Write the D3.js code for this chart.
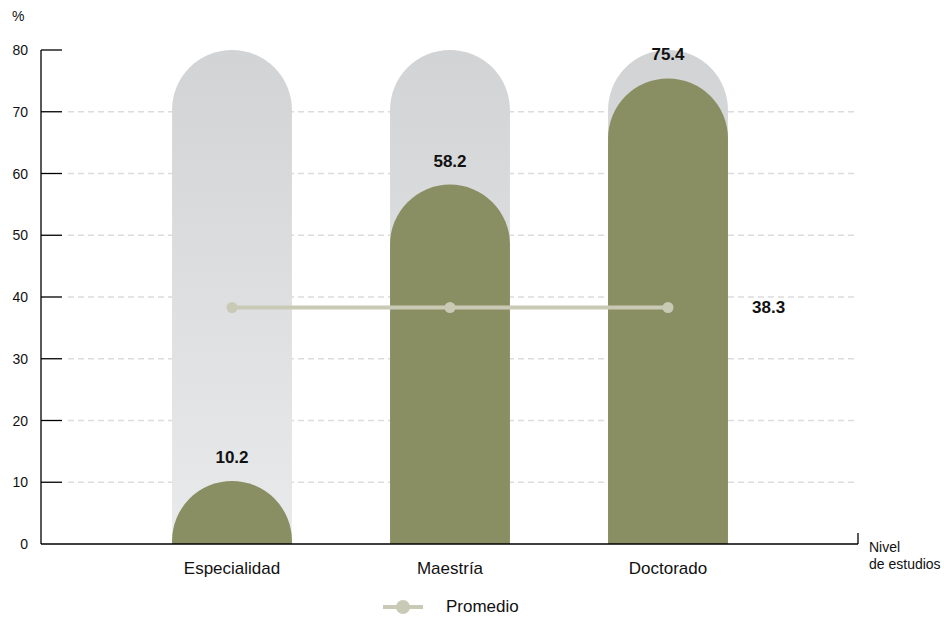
<!DOCTYPE html>
<html><head><meta charset="utf-8">
<script src="https://cdn.jsdelivr.net/npm/d3@7"></script>
<style>
body{margin:0;background:#fff;}
svg{display:block;font-family:"Liberation Sans",Arial,Helvetica,sans-serif;}
</style></head>
<body>
<svg id="c" width="944" height="617"></svg>
<script>
const categories = ["Especialidad","Maestría","Doctorado"];
const values = [10.2, 58.2, 75.4];
const promedio = [38.3, 38.3, 38.3];
const promedioLabel = "38.3";
const yTicks = [0,10,20,30,40,50,60,70,80];
const yMax = 80;

const svg = d3.select("#c");
const y = d3.scaleLinear().domain([0, yMax]).range([544, 50]);
const x = d3.scaleBand().domain(categories).range([123, 777]).padding(0);
const bw = x.bandwidth()*0.55;
const cx = d => x(d) + x.bandwidth()/2;

const defs = svg.append("defs");
const g = defs.append("linearGradient").attr("id","bg").attr("x1",0).attr("y1",0).attr("x2",0).attr("y2",1);
g.append("stop").attr("offset","0%").attr("stop-color","#d2d3d5");
g.append("stop").attr("offset","100%").attr("stop-color","#e9eaeb");

// grid
svg.append("g").selectAll("line").data(yTicks.filter(t=>t>0 && t<yMax)).join("line")
  .attr("x1",68).attr("x2",857).attr("y1",d=>y(d)).attr("y2",d=>y(d))
  .attr("stroke","#dcdcdc").attr("stroke-width",1.5).attr("stroke-dasharray","6,4");

function roundTop(x0, x1, top, bottom){
  const r = (x1-x0)/2, h = bottom-top;
  if (h <= r) return `M${x0},${bottom} A${r},${h} 0 0 1 ${x1},${bottom} Z`;
  return `M${x0},${bottom} L${x0},${top+r} A${r},${r} 0 0 1 ${x1},${top+r} L${x1},${bottom} Z`;
}

// background bars
svg.append("g").selectAll("path").data(categories).join("path")
  .attr("d", d => roundTop(cx(d)-bw/2, cx(d)+bw/2, y(yMax), y(0)))
  .attr("fill","url(#bg)");

// value bars
svg.append("g").selectAll("path").data(categories).join("path")
  .attr("d", (d,i) => roundTop(cx(d)-bw/2, cx(d)+bw/2, y(values[i]), y(0)))
  .attr("fill","#8a8e63");

// value labels
svg.append("g").selectAll("text").data(categories).join("text")
  .attr("x", d=>cx(d)).attr("y",(d,i)=>y(values[i])-18)
  .attr("text-anchor","middle").attr("font-size",17).attr("font-weight","bold").attr("fill","#111")
  .text((d,i)=>values[i].toFixed(1));

// promedio line
const line = d3.line().x(d=>cx(d[0])).y(d=>y(d[1]));
svg.append("path").datum(categories.map((c,i)=>[c,promedio[i]])).attr("d",line)
  .attr("fill","none").attr("stroke","#c9cab6").attr("stroke-width",4);
svg.append("g").selectAll("circle").data(categories).join("circle")
  .attr("cx",d=>cx(d)).attr("cy",(d,i)=>y(promedio[i])).attr("r",5.5).attr("fill","#c9cab6");
svg.append("text").attr("x",752).attr("y",y(promedio[2])+6)
  .attr("font-size",17).attr("font-weight","bold").attr("fill","#111").text(promedioLabel);

// axes
const ax = svg.append("g").attr("stroke","#000").attr("stroke-width",1.3);
ax.append("line").attr("x1",41).attr("x2",41).attr("y1",y(yMax)).attr("y2",y(0));
ax.append("line").attr("x1",41).attr("x2",858).attr("y1",y(0)).attr("y2",y(0));
ax.append("line").attr("x1",858).attr("x2",858).attr("y1",y(0)-11).attr("y2",y(0));
ax.selectAll(".tk").data(yTicks.filter(t=>t>0)).join("line").attr("class","tk")
  .attr("x1",41).attr("x2",62).attr("y1",d=>y(d)).attr("y2",d=>y(d));

svg.append("g").selectAll("text").data(yTicks).join("text")
  .attr("x",28).attr("y",d=>y(d)+5).attr("text-anchor","end")
  .attr("font-size",14).attr("fill","#111").text(d=>d);
svg.append("text").attr("x",12).attr("y",21).attr("font-size",14).attr("fill","#111").text("%");

svg.append("g").selectAll("text").data(categories).join("text")
  .attr("x",d=>cx(d)).attr("y",574).attr("text-anchor","middle")
  .attr("font-size",17).attr("fill","#111").text(d=>d);

svg.append("text").attr("x",869).attr("y",552).attr("font-size",14).attr("fill","#111").text("Nivel");
svg.append("text").attr("x",869).attr("y",569).attr("font-size",14).attr("fill","#111").text("de estudios");

// legend
svg.append("line").attr("x1",383).attr("x2",423).attr("y1",607).attr("y2",607)
  .attr("stroke","#c9cab6").attr("stroke-width",4);
svg.append("circle").attr("cx",403).attr("cy",607).attr("r",7).attr("fill","#c9cab6");
svg.append("text").attr("x",446).attr("y",612).attr("font-size",17).attr("fill","#111").text("Promedio");
</script>
</body></html>
